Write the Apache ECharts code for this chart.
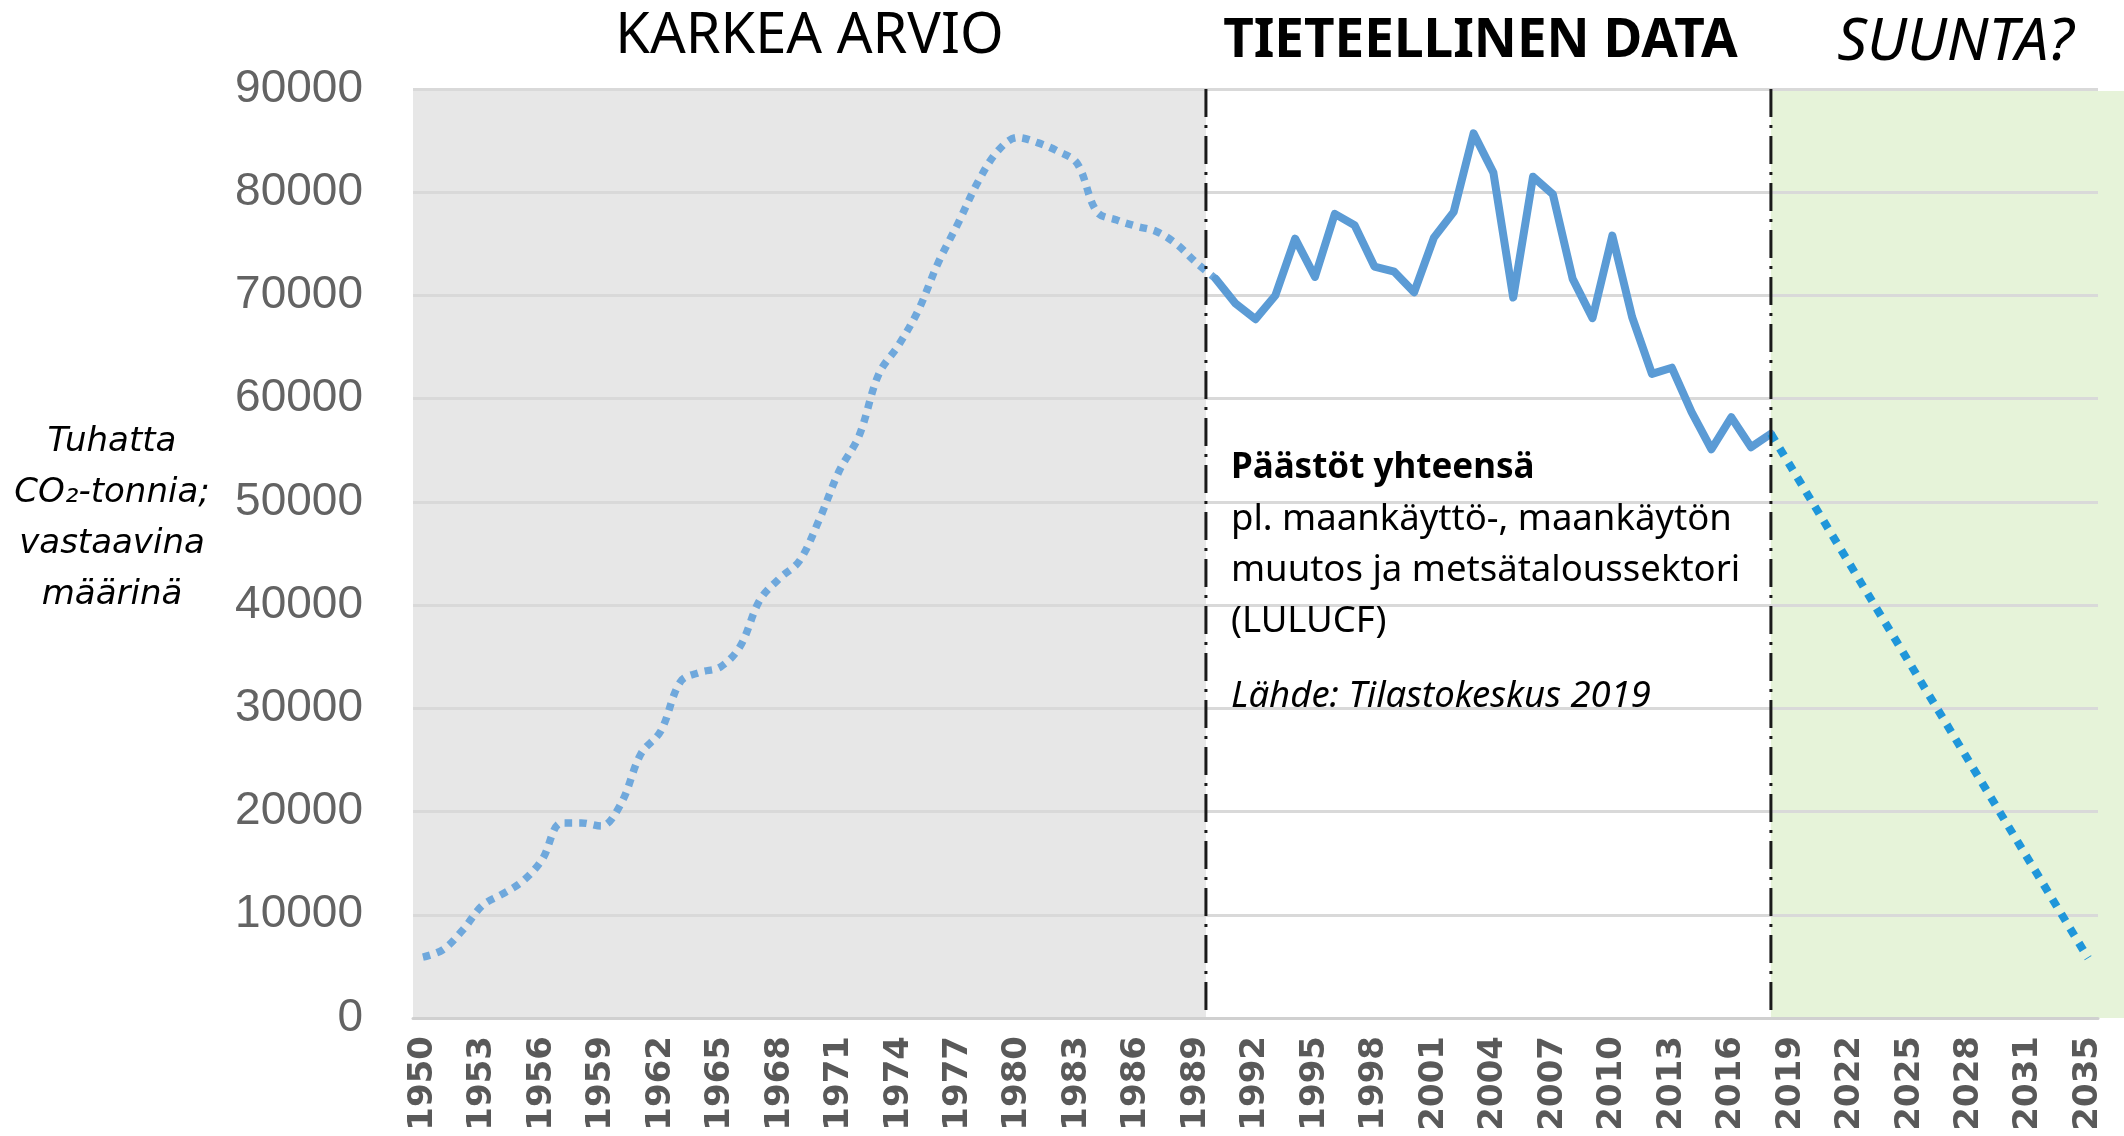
<!DOCTYPE html>
<html>
<head>
<meta charset="utf-8">
<script src="https://cdn.jsdelivr.net/npm/echarts@6/dist/echarts.min.js"></script>
<style>
html,body{margin:0;padding:0;background:#ffffff;}
#chart{width:2124px;height:1136px;}
</style>
</head>
<body>
<div id="chart"></div>
<script>
// ---------- DATA ----------
const categories = [
  '1950','1951','1952','1953','1954','1955','1956','1957','1958','1959',
  '1960','1961','1962','1963','1964','1965','1966','1967','1968','1969',
  '1970','1971','1972','1973','1974','1975','1976','1977','1978','1979',
  '1980','1981','1982','1983','1984','1985','1986','1987','1988','1989',
  '1990','1991','1992','1993','1994','1995','1996','1997','1998','1999',
  '2000','2001','2002','2003','2004','2005','2006','2007','2008','2009',
  '2010','2011','2012','2013','2014','2015','2016','2017','2018','2019',
  '2020','2021','2022','2023','2024','2025','2026','2027','2028','2029',
  '2030','2031','2032','2033','2035'
];

// Rough estimate 1950-1990 (dotted)
const estimateYears = [
  '1950','1951','1952','1953','1954','1955','1956','1957','1958','1959',
  '1960','1961','1962','1963','1964','1965','1966','1967','1968','1969',
  '1970','1971','1972','1973','1974','1975','1976','1977','1978','1979',
  '1980','1981','1982','1983','1984','1985','1986','1987','1988','1989','1990'
];
const estimateValues = [
  5900, 6600, 8500, 10900, 12000, 13200, 15300, 18900, 18900, 18600,
  20800, 25600, 27800, 32600, 33500, 34000, 36000, 40500, 42600, 44300,
  48300, 53000, 56400, 62400, 65200, 68600, 73200, 77000, 81000, 84000,
  85300, 84800, 84000, 82800, 78100, 77300, 76700, 76200, 75000, 73200, 71600
];

// Statistics Finland data 1990-2018 (solid)
const measuredYears = [
  '1990','1991','1992','1993','1994','1995','1996','1997','1998','1999',
  '2000','2001','2002','2003','2004','2005','2006','2007','2008','2009',
  '2010','2011','2012','2013','2014','2015','2016','2017','2018'
];
const measuredValues = [
  71600, 69200, 67700, 70000, 75500, 71800, 77900, 76800, 72800, 72300,
  70300, 75600, 78100, 85700, 81900, 69800, 81500, 79800, 71600, 67800,
  75800, 67900, 62400, 63000, 58700, 55100, 58200, 55300, 56600
];

// Direction (dotted straight line)
const trendYears = ['2018', '2035'];
const trendValues = [56600, 5800];

const yTicks = {min: 0, max: 90000, interval: 10000};

const sectionTitles = ['KARKEA ARVIO', 'TIETEELLINEN DATA', 'SUUNTA?'];
const axisNameLines = ['Tuhatta', 'CO\u2082-tonnia;', 'vastaavina', 'määrinä'];
const noteTitle = 'Päästöt yhteensä';
const noteLines = ['pl. maankäyttö-, maankäytön', 'muutos ja metsätaloussektori', '(LULUCF)'];
const noteSource = 'Lähde: Tilastokeskus 2019';

// ---------- BUILD ----------
function align(years, values) {
  const arr = categories.map(() => null);
  years.forEach((y, i) => { arr[categories.indexOf(y)] = values[i]; });
  return arr;
}

const chart = echarts.init(document.getElementById('chart'), null, {renderer: 'canvas'});

const option = {
  animation: false,
  backgroundColor: '#ffffff',
  grid: {left: 413, right: 26, top: 89, bottom: 118, containLabel: false},
  xAxis: {
    type: 'category',
    data: categories,
    boundaryGap: true,
    axisLine: {show: true, lineStyle: {color: '#d0d0d0', width: 3}},
    axisTick: {show: false},
    splitLine: {show: false},
    axisLabel: {
      interval: 2,
      rotate: 90,
      margin: 18,
      fontFamily: 'DejaVu Sans',
      fontWeight: 'bold',
      fontSize: 34,
      color: '#595959'
    }
  },
  yAxis: {
    type: 'value',
    min: yTicks.min,
    max: yTicks.max,
    interval: yTicks.interval,
    axisLine: {show: false},
    axisTick: {show: false},
    splitLine: {show: true, lineStyle: {color: '#d9d9d9', width: 3}},
    axisLabel: {
      margin: 50,
      fontFamily: 'Liberation Sans',
      fontSize: 46,
      color: '#636363',
      formatter: (v) => String(v)
    }
  },
  series: [
    {
      name: 'Karkea arvio',
      type: 'line',
      data: align(estimateYears, estimateValues),
      smooth: 0.35,
      showSymbol: false,
      z: 3,
      lineStyle: {color: '#6fa8dc', width: 7.5, type: [7.5, 7], cap: 'butt'}
    },
    {
      name: 'Tieteellinen data',
      type: 'line',
      data: align(measuredYears, measuredValues),
      showSymbol: false,
      z: 4,
      lineStyle: {color: '#5b9bd5', width: 8, join: 'round', cap: 'round'}
    },
    {
      name: 'Suunta',
      type: 'line',
      data: align(trendYears, trendValues),
      connectNulls: true,
      showSymbol: false,
      z: 4,
      lineStyle: {color: '#1f96da', width: 8, type: [8.5, 8.5], cap: 'butt'}
    }
  ]
};
chart.setOption(option);

// ---------- DECORATION (positions derived from the axes) ----------
const px = (i) => chart.convertToPixel({xAxisIndex: 0}, i);
const py = (v) => chart.convertToPixel({yAxisIndex: 0}, v);
const iStart = categories.indexOf('1990');
const iTrend = categories.indexOf('2018');
const slot = px(1) - px(0);
const xLeft = px(0) - slot / 2;
const xSplit1 = (px(iStart - 1) + px(iStart)) / 2;
const xSplit2 = px(iTrend);
const yTop = py(yTicks.max);
const yBot = py(yTicks.min);
const W = chart.getWidth();

const dashPattern = [28, 8, 3, 8];
const graphics = [
  {type: 'rect', z: -10, silent: true,
   shape: {x: xLeft, y: yTop, width: xSplit1 - xLeft, height: yBot - yTop},
   style: {fill: '#e7e7e7'}},
  {type: 'rect', z: -10, silent: true,
   shape: {x: xSplit2, y: yTop + 2, width: W - xSplit2, height: yBot - yTop - 2},
   style: {fill: '#e6f3d9'}},
  {type: 'line', z: 10, silent: true,
   shape: {x1: xSplit1, y1: yTop, x2: xSplit1, y2: yBot},
   style: {stroke: '#1a1a1a', lineWidth: 3, lineDash: dashPattern}},
  {type: 'line', z: 10, silent: true,
   shape: {x1: xSplit2, y1: yTop, x2: xSplit2, y2: yBot},
   style: {stroke: '#1a1a1a', lineWidth: 3, lineDash: dashPattern}},
  // section titles
  {type: 'text', z: 20, x: (xLeft + xSplit1) / 2, y: 37,
   style: {text: sectionTitles[0], fontFamily: 'Noto Sans', fontSize: 56, fill: '#000',
           textAlign: 'center', textVerticalAlign: 'middle'}},
  {type: 'text', z: 20, x: (xSplit1 + xSplit2) / 2 - 8, y: 42,
   style: {text: sectionTitles[1], fontFamily: 'Noto Sans', fontWeight: 'bold', fontSize: 53, fill: '#000',
           textAlign: 'center', textVerticalAlign: 'middle'}},
  {type: 'text', z: 20, x: (xSplit2 + W) / 2 + 8, y: 43,
   style: {text: sectionTitles[2], fontFamily: 'Noto Sans', fontStyle: 'italic', fontSize: 59, fill: '#000',
           textAlign: 'center', textVerticalAlign: 'middle'}},
  // y axis name
  {type: 'text', z: 20, x: 112, y: 519,
   style: {text: axisNameLines.join('\n'), fontFamily: 'DejaVu Sans', fontStyle: 'italic', fontSize: 34,
           lineHeight: 51, fill: '#000', textAlign: 'center', textVerticalAlign: 'middle'}},
  // note
  {type: 'text', z: 20, x: xSplit1 + 25, y: 468,
   style: {text: noteTitle, fontFamily: 'Noto Sans', fontWeight: 'bold', fontSize: 35, fill: '#000',
           textAlign: 'left', textVerticalAlign: 'middle'}},
  {type: 'text', z: 20, x: xSplit1 + 25, y: 494,
   style: {text: noteLines.join('\n'), fontFamily: 'Noto Sans', fontSize: 36.5, lineHeight: 51, fill: '#000',
           textAlign: 'left', textVerticalAlign: 'top'}},
  {type: 'text', z: 20, x: xSplit1 + 25, y: 697,
   style: {text: noteSource, fontFamily: 'Noto Sans', fontStyle: 'italic', fontSize: 36.5, fill: '#000',
           textAlign: 'left', textVerticalAlign: 'middle'}}
];
chart.setOption({graphic: graphics});
</script>
</body>
</html>
